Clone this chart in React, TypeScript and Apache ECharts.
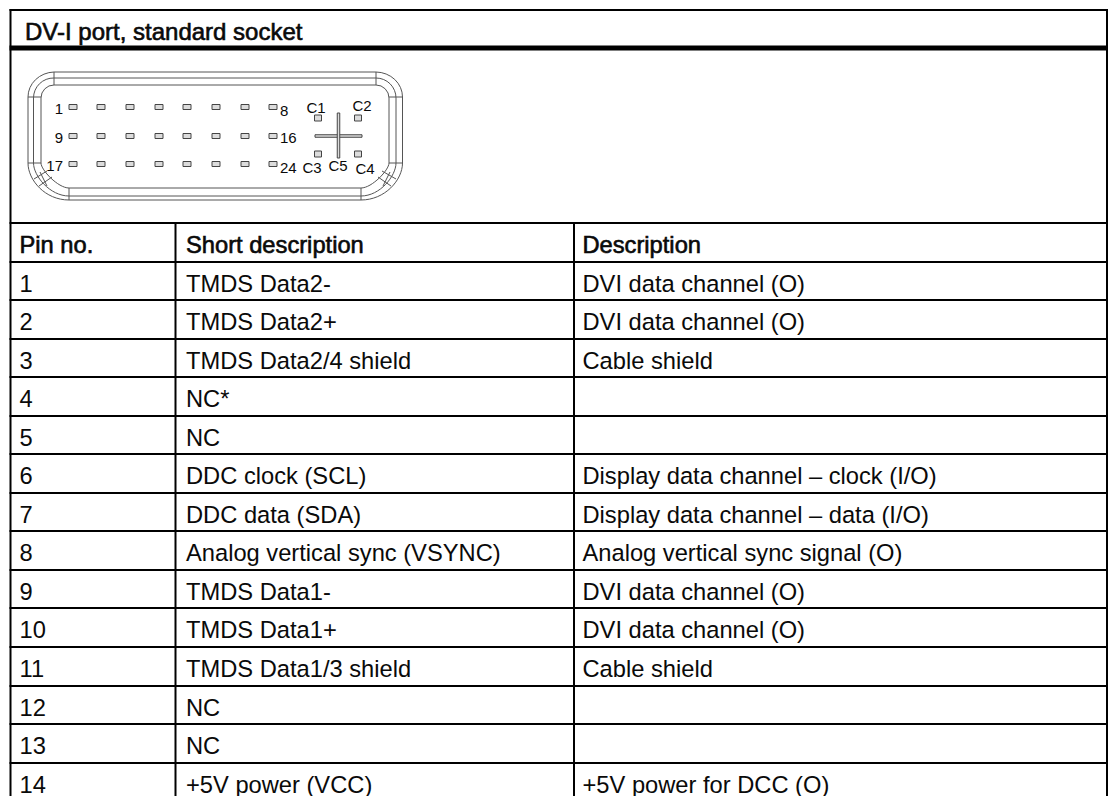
import React, { useEffect, useRef } from "react";
import * as echarts from "echarts";

const title = "DV-I port, standard socket";
const headers = ["Pin no.", "Short description", "Description"];
const pinNumbers = ["1", "2", "3", "4", "5", "6", "7", "8", "9", "10", "11", "12", "13", "14"];
const shortDescriptions = [
  "TMDS Data2-", "TMDS Data2+", "TMDS Data2/4 shield", "NC*", "NC", "DDC clock (SCL)", "DDC data (SDA)",
  "Analog vertical sync (VSYNC)", "TMDS Data1-", "TMDS Data1+", "TMDS Data1/3 shield", "NC", "NC", "+5V power (VCC)",
];
const descriptions = [
  "DVI data channel (O)", "DVI data channel (O)", "Cable shield", "", "",
  "Display data channel – clock (I/O)", "Display data channel – data (I/O)", "Analog vertical sync signal (O)",
  "DVI data channel (O)", "DVI data channel (O)", "Cable shield", "", "", "+5V power for DCC (O)",
];

const rowLines = [262, 300, 339, 377, 416, 454, 493, 531, 570, 608, 647, 686, 724, 763];
const colLines = [175.5, 574];
const colText = [19.5, 186, 582.5];
const padColumns = [73, 101, 130, 159, 187, 216, 245, 273];
const padRows = [107, 136, 164];
const leftLabels = ["1", "9", "17"];
const rightLabels = ["8", "16", "24"];
const rightLabelY = [110, 137, 167];
const contactLabels: [string, number, number][] = [
  ["C1", 316, 107], ["C2", 362, 105], ["C3", 312, 167], ["C5", 338, 165], ["C4", 365, 168],
];
const contactPads = [[318, 118], [358, 118], [318, 154], [358, 154]];

const connectorPath =
  "M54 72 H376 A27 25 0 0 1 402.5 97 V163 C402.5 180 385 200 361 200 H69 C45 200 28 180 28 163 V97 A27 25 0 0 1 54 72 Z " +
  "M54 78 H376 A20 20 0 0 1 396 98 V163 C396 176 380 196 361 196 H69 C50 196 33.5 176 33.5 163 V98 A20 20 0 0 1 54 78 Z " +
  "M54 85 H376 A13 13 0 0 1 389 98 V163 C389 170 372 188 361 188 H69 C58 188 41 170 41 163 V98 A13 13 0 0 1 54 85 Z " +
  "M54 72 V85 M376 72 V85 M28 97 H41 M389 97 H402.5 M28 163 H41 M389 163 H402.5 M69 188 V200 M361 188 V200 " +
  "M34 179 L47 171 M39 186 L52 177 M40 172 L47 186 M382 171 L396 179 M378 177 L391 186 M390 172 L383 186";

echarts.graphic.registerShape("connector", echarts.graphic.extendPath(connectorPath, {}) as any);

const FONT = "'Liberation Sans', Arial, sans-serif";
const INK = "#000";

function hLine(y: number, x1: number, x2: number, w = 2) {
  return { type: "line", shape: { x1, y1: y, x2, y2: y }, style: { stroke: INK, lineWidth: w } };
}
function vLine(x: number, y1: number, y2: number, w = 2) {
  return { type: "line", shape: { x1: x, y1, x2: x, y2 }, style: { stroke: INK, lineWidth: w } };
}
function label(text: string, x: number, y: number, fontSize: number, bold = false, align = "left") {
  return {
    type: "text",
    x,
    y,
    style: {
      text,
      fontFamily: FONT,
      fontSize,
      fill: "#0a0a0a",
      align,
      verticalAlign: "middle",
      ...(bold ? { stroke: "#000", lineWidth: 0.6 } : {}),
    },
  };
}
function pad(cx: number, cy: number, w: number, h: number) {
  return {
    type: "rect",
    shape: { x: cx - w / 2 + 0.5, y: cy - h / 2 + 0.5, width: w - 1, height: h - 1 },
    style: { fill: "#dcdcdc", stroke: "#444", lineWidth: 1 },
  };
}

export default function App() {
  const ref = useRef<HTMLDivElement>(null);
  useEffect(() => {
    document.body.style.margin = "0";
    document.body.style.background = "#fff";
    const chart = echarts.init(ref.current!, undefined, { renderer: "svg" });
    const elements: any[] = [];

    // table frame
    elements.push(hLine(10, 9.5, 1108));
    elements.push(hLine(48, 9.5, 1108, 5));
    elements.push(hLine(223, 9.5, 1108));
    rowLines.forEach((y) => elements.push(hLine(y, 9.5, 1108)));
    elements.push(vLine(10.5, 9, 796));
    elements.push(vLine(1107, 9, 796));
    colLines.forEach((x) => elements.push(vLine(x, 223, 796)));

    // connector drawing
    elements.push({ type: "connector", x: 0, y: 0, style: { fill: "none", stroke: "#555", lineWidth: 1 } });
    padRows.forEach((y) => padColumns.forEach((x) => elements.push(pad(x, y, 9, 6))));
    contactPads.forEach(([x, y]) => elements.push(pad(x, y, 8, 7)));
    elements.push(pad(338.5, 136, 48, 3.5));
    elements.push(pad(338.5, 135.5, 3.5, 46));
    leftLabels.forEach((t, i) => elements.push(label(t, 63, padRows[i] + 1, 15, false, "right")));
    rightLabels.forEach((t, i) => elements.push(label(t, 280, rightLabelY[i], 15)));
    contactLabels.forEach(([t, x, y]) => elements.push(label(t, x, y, 15, false, "center")));

    // texts
    elements.push(label(title, 25, 31.5, 24, true));
    headers.forEach((h, i) => elements.push(label(h, colText[i], 245, 23.7, true)));
    pinNumbers.forEach((t, i) => {
      const y = rowLines[i] + 22;
      elements.push(label(t, colText[0], y, 23.7));
      elements.push(label(shortDescriptions[i], colText[1], y, 23.7));
      if (descriptions[i]) elements.push(label(descriptions[i], colText[2], y, 23.7));
    });

    chart.setOption({ animation: false, backgroundColor: "#fff", graphic: { elements } });
    return () => chart.dispose();
  }, []);
  return <div ref={ref} style={{ width: 1109, height: 796, overflow: "hidden" }} />;
}
